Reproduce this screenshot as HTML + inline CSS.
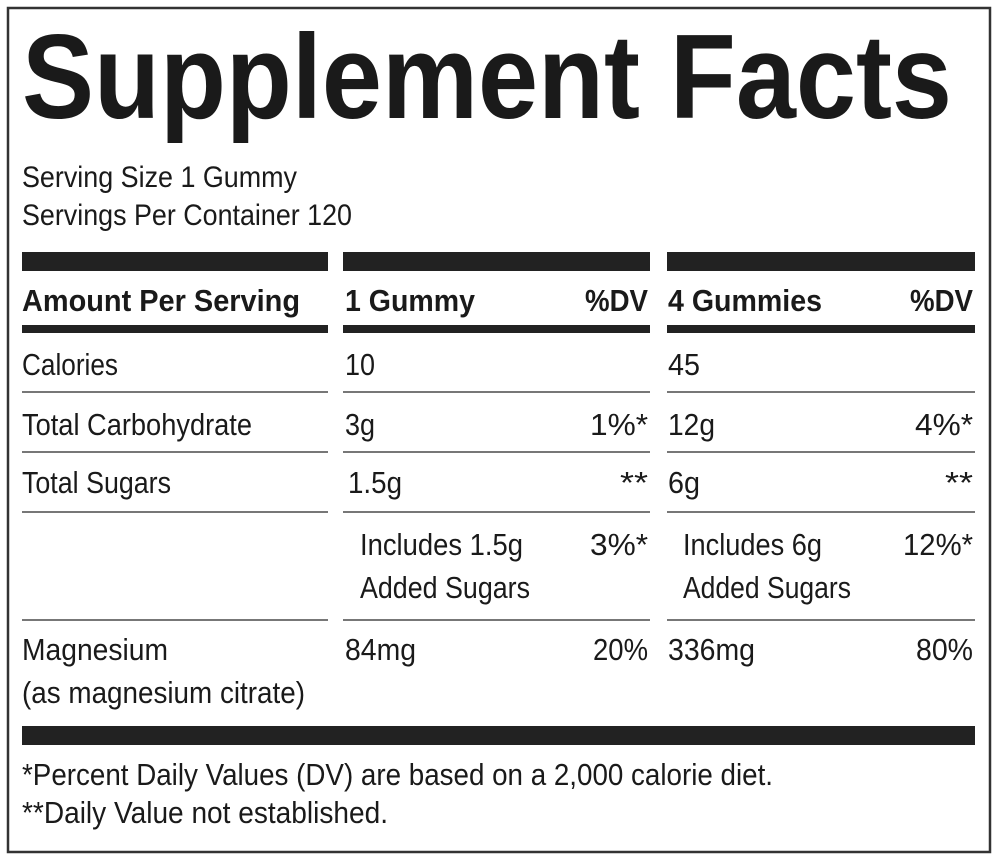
<!DOCTYPE html>
<html><head><meta charset="utf-8"><style>html,body{margin:0;padding:0;background:#fff}svg{display:block}</style></head>
<body>
<svg width="1000" height="861" viewBox="0 0 1000 861" xmlns="http://www.w3.org/2000/svg" font-family="Liberation Sans, sans-serif" fill="#1a1a1a">
<rect x="8" y="8" width="982" height="844" fill="#fff" stroke="#333" stroke-width="2.5"/>
<text x="22" y="118" font-size="120" font-weight="bold" textLength="930" lengthAdjust="spacingAndGlyphs">Supplement Facts</text>
<g font-size="30">
<text x="22" y="187" textLength="275" lengthAdjust="spacingAndGlyphs">Serving Size 1 Gummy</text>
<text x="22" y="225" textLength="330" lengthAdjust="spacingAndGlyphs">Servings Per Container 120</text>
</g>
<g fill="#222">
<rect x="22" y="252" width="306" height="19"/><rect x="343" y="252" width="307" height="19"/><rect x="667" y="252" width="308" height="19"/>
<rect x="22" y="325" width="306" height="8"/><rect x="343" y="325" width="307" height="8"/><rect x="667" y="325" width="308" height="8"/>
<rect x="22" y="726" width="953" height="19"/>
</g>
<g fill="#777">
<rect x="22" y="391" width="306" height="2"/><rect x="343" y="391" width="307" height="2"/><rect x="667" y="391" width="308" height="2"/>
<rect x="22" y="451" width="306" height="2"/><rect x="343" y="451" width="307" height="2"/><rect x="667" y="451" width="308" height="2"/>
<rect x="22" y="511" width="306" height="2"/><rect x="343" y="511" width="307" height="2"/><rect x="667" y="511" width="308" height="2"/>
<rect x="22" y="619" width="306" height="2"/><rect x="343" y="619" width="307" height="2"/><rect x="667" y="619" width="308" height="2"/>
</g>
<g font-size="31" font-weight="bold">
<text x="22" y="311" textLength="278" lengthAdjust="spacingAndGlyphs">Amount Per Serving</text>
<text x="345" y="311" textLength="130" lengthAdjust="spacingAndGlyphs">1 Gummy</text>
<text x="585" y="311" textLength="63" lengthAdjust="spacingAndGlyphs">%DV</text>
<text x="668" y="311" textLength="154" lengthAdjust="spacingAndGlyphs">4 Gummies</text>
<text x="910" y="311" textLength="63" lengthAdjust="spacingAndGlyphs">%DV</text>
</g>
<g font-size="31">
<text x="22" y="375" textLength="96" lengthAdjust="spacingAndGlyphs">Calories</text>
<text x="345" y="375" textLength="30" lengthAdjust="spacingAndGlyphs">10</text>
<text x="668" y="375" textLength="32" lengthAdjust="spacingAndGlyphs">45</text>
<text x="22" y="435" textLength="230" lengthAdjust="spacingAndGlyphs">Total Carbohydrate</text>
<text x="345" y="435" textLength="30" lengthAdjust="spacingAndGlyphs">3g</text>
<text x="590" y="435" textLength="58" lengthAdjust="spacingAndGlyphs">1%*</text>
<text x="668" y="435" textLength="47" lengthAdjust="spacingAndGlyphs">12g</text>
<text x="915" y="435" textLength="58" lengthAdjust="spacingAndGlyphs">4%*</text>
<text x="22" y="493" textLength="149" lengthAdjust="spacingAndGlyphs">Total Sugars</text>
<text x="348" y="493" textLength="54" lengthAdjust="spacingAndGlyphs">1.5g</text>
<text x="620" y="493" textLength="28" lengthAdjust="spacingAndGlyphs">**</text>
<text x="668" y="493" textLength="32" lengthAdjust="spacingAndGlyphs">6g</text>
<text x="945" y="493" textLength="28" lengthAdjust="spacingAndGlyphs">**</text>
<text x="360" y="555" textLength="163" lengthAdjust="spacingAndGlyphs">Includes 1.5g</text>
<text x="590" y="555" textLength="58" lengthAdjust="spacingAndGlyphs">3%*</text>
<text x="360" y="598" textLength="170" lengthAdjust="spacingAndGlyphs">Added Sugars</text>
<text x="683" y="555" textLength="139" lengthAdjust="spacingAndGlyphs">Includes 6g</text>
<text x="903" y="555" textLength="70" lengthAdjust="spacingAndGlyphs">12%*</text>
<text x="683" y="598" textLength="168" lengthAdjust="spacingAndGlyphs">Added Sugars</text>
<text x="22" y="660" textLength="146" lengthAdjust="spacingAndGlyphs">Magnesium</text>
<text x="22" y="703" textLength="283" lengthAdjust="spacingAndGlyphs">(as magnesium citrate)</text>
<text x="345" y="660" textLength="71" lengthAdjust="spacingAndGlyphs">84mg</text>
<text x="593" y="660" textLength="55" lengthAdjust="spacingAndGlyphs">20%</text>
<text x="668" y="660" textLength="87" lengthAdjust="spacingAndGlyphs">336mg</text>
<text x="916" y="660" textLength="57" lengthAdjust="spacingAndGlyphs">80%</text>
<text x="22" y="785" textLength="751" lengthAdjust="spacingAndGlyphs">*Percent Daily Values (DV) are based on a 2,000 calorie diet.</text>
<text x="22" y="823" textLength="366" lengthAdjust="spacingAndGlyphs">**Daily Value not established.</text>
</g>
</svg>
</body></html>
